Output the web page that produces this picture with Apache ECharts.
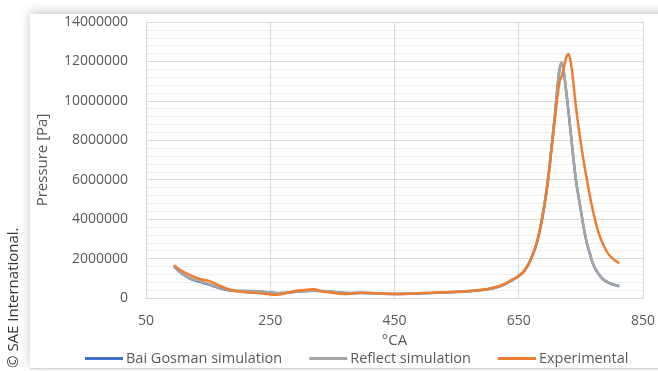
<!DOCTYPE html>
<html>
<head>
<meta charset="utf-8">
<script src="https://cdn.jsdelivr.net/npm/echarts@6/dist/echarts.min.js"></script>
<style>
  html, body { margin: 0; padding: 0; width: 658px; height: 371px; background: #ffffff; overflow: hidden; }
  #card { position: absolute; left: 30px; top: 14px; width: 660px; height: 354px; background: #fff;
          box-shadow: 0 -2px 10px rgba(0,0,0,0.22); border-bottom: 1px solid #d6d6d6; }
  #chart { position: absolute; left: 0; top: 0; width: 658px; height: 371px; }
</style>
</head>
<body>
<div id="card"></div>
<div id="chart"></div>
<script>
// Crank angle (°CA) sample points
const crankAngle = [95,105,120,135,150,165,180,195,210,225,240,255,265,280,295,310,320,335,350,365,380,395,420,450,480,510,540,570,600,620,635,650,660,670,680,690,697,703,708,713,716,719,722,726,730,734,738,742,746,750,755,760,765,770,778,786,795,804,812];

// Cylinder pressure [Pa]
const baiGosman = [1600000,1300000,990000,830000,690000,530000,410000,350000,350000,340000,310000,265000,245000,275000,325000,355000,365000,345000,315000,265000,245000,255000,235000,205000,225000,255000,295000,345000,445000,595000,825000,1115000,1415000,1995000,2890000,4490000,6000000,7700000,9200000,10900000,11650000,11920000,11580000,10580000,9480000,8280000,7080000,5980000,5180000,4440000,3490000,2740000,2190000,1690000,1240000,940000,770000,660000,600000];
const reflect   = [1620000,1320000,1020000,860000,720000,550000,420000,360000,360000,350000,320000,270000,250000,280000,330000,360000,370000,350000,320000,270000,250000,260000,240000,210000,230000,260000,300000,350000,450000,600000,830000,1120000,1420000,2000000,2900000,4500000,6010000,7710000,9210000,10910000,11660000,11940000,11600000,10600000,9500000,8300000,7100000,6000000,5200000,4460000,3500000,2750000,2200000,1700000,1250000,950000,780000,670000,610000];
const experimental = [1670000,1420000,1170000,980000,880000,680000,470000,350000,290000,260000,220000,170000,180000,280000,380000,420000,440000,320000,270000,200000,220000,270000,240000,200000,230000,270000,300000,360000,460000,620000,850000,1120000,1420000,2000000,2900000,4400000,5900000,7600000,9000000,10400000,11000000,11250000,11600000,12150000,12380000,11900000,10900000,9700000,8750000,7850000,6850000,5950000,5100000,4350000,3350000,2700000,2200000,1930000,1760000];

const seriesNames = ['Bai Gosman simulation', 'Reflect simulation', 'Experimental'];
const seriesColors = ['#4472C4', '#A5A5A5', '#ED7D31'];
const xTicks = { min: 50, max: 850, step: 200 };
const yTicks = { min: 0, max: 14000000, step: 2000000 };

const pairs = vals => crankAngle.map((a, i) => [a, vals[i]]);
const textFont = '"Open Sans", "Liberation Sans", sans-serif';

const chart = echarts.init(document.getElementById('chart'), null, { renderer: 'canvas' });
chart.setOption({
  backgroundColor: 'transparent',
  animation: false,
  grid: { left: 146, right: 12, top: 22, bottom: 73, containLabel: false },
  legend: {
    left: 80, top: 346,
    itemWidth: 38, itemHeight: 3, itemGap: 27,
    icon: 'rect',
    textStyle: { color: '#595959', fontSize: 14.5, fontFamily: textFont, padding: [0, 0, 0, -2] },
    data: seriesNames
  },
  xAxis: {
    type: 'value', min: xTicks.min, max: xTicks.max, interval: xTicks.step,
    name: '°CA', nameLocation: 'middle', nameGap: 25,
    nameTextStyle: { color: '#595959', fontSize: 15, fontFamily: textFont },
    axisLine: { show: true, lineStyle: { color: '#D9D9D9', width: 1 } },
    axisTick: { show: false },
    axisLabel: { color: '#595959', fontSize: 14, fontFamily: textFont, margin: 16 },
    splitLine: { show: true, lineStyle: { color: '#D9D9D9', width: 1 } }
  },
  yAxis: {
    type: 'value', min: yTicks.min, max: yTicks.max, interval: yTicks.step,
    name: 'Pressure [Pa]', nameLocation: 'middle', nameGap: 96,
    nameTextStyle: { color: '#595959', fontSize: 15, fontFamily: textFont },
    axisLine: { show: true, lineStyle: { color: '#D9D9D9', width: 1 } },
    axisTick: { show: false },
    axisLabel: { color: '#595959', fontSize: 14, fontFamily: textFont, margin: 18, formatter: v => String(v) },
    splitLine: { show: true, lineStyle: { color: '#D9D9D9', width: 1 } },
    minorTick: { show: false, splitNumber: 5 },
    minorSplitLine: { show: true, lineStyle: { color: '#EFEFEF', width: 1 } }
  },
  series: [baiGosman, reflect, experimental].map((vals, i) => ({
    name: seriesNames[i],
    type: 'line',
    data: pairs(vals),
    smooth: 0.35,
    showSymbol: false,
    symbol: 'none',
    color: seriesColors[i],
    lineStyle: { color: seriesColors[i], width: 2.5 },
    z: 2 + i
  })),
  graphic: [{
    type: 'text',
    x: 6, y: 368,
    rotation: Math.PI / 2,
    style: { text: '© SAE International.', fill: '#333333', fontSize: 15, fontFamily: textFont }
  }]
});
</script>
</body>
</html>
